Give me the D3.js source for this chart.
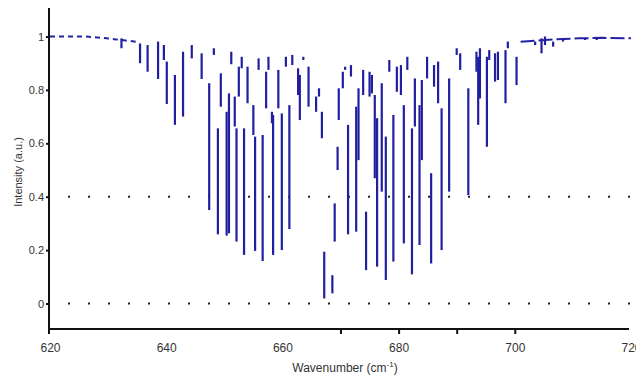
<!DOCTYPE html>
<html>
<head>
<meta charset="utf-8">
<script src="https://cdn.jsdelivr.net/npm/d3@7"></script>
<style>
  body { margin: 0; background: #fff; }
  text { font-family: "Liberation Sans", Arial, sans-serif; fill: #333; }
</style>
</head>
<body>
<script>
// wavenumber of each absorption line (cm^-1)
const linePos = [632.3, 635.5, 636.8, 638.6, 639.6, 640.1, 641.5, 642.9, 644.4, 646.1,
  647.4, 648.2, 648.9, 649.4, 650.4, 650.8, 651.2, 651.8, 652.1, 652.5,
  653.0, 653.4, 654.0, 655.0, 655.3, 655.9, 656.6, 657.2, 657.6, 658.2,
  658.4, 659.3, 659.9, 660.6, 661.2, 661.7, 662.7, 663.0, 663.6, 664.5,
  665.8, 666.3, 666.8, 667.2, 668.6, 669.0, 669.5, 669.7,
  670.4, 670.8, 671.3, 671.8, 672.7, 673.1, 673.9, 674.4, 675.0, 675.4,
  675.9, 676.3, 677.1, 677.8, 678.4, 679.1, 679.7, 680.4, 680.9, 681.5,
  682.3, 682.8, 683.6, 684.0, 684.9, 685.6, 686.1, 686.8, 687.4, 688.7,
  690.0, 690.6, 692.0, 693.4, 693.7, 694.0, 695.2, 695.6, 696.6, 697.1,
  698.4, 698.8, 700.3, 703.5, 704.6, 705.2, 706.6, 708.3, 712.1, 714.1];
// transmittance at the top of each line
const lineTop = [0.993, 0.974, 0.968, 0.981, 0.968, 0.906, 0.856, 0.943, 0.968, 0.937,
  0.825, 0.956, 0.656, 0.862, 0.718, 0.787, 0.943, 0.775, 0.656, 0.887,
  0.924, 0.656, 0.887, 0.743, 0.625, 0.918, 0.631, 0.868, 0.924, 0.718,
  0.706, 0.875, 0.712, 0.924, 0.743, 0.931, 0.881, 0.856, 0.924, 0.887,
  0.775, 0.806, 0.718, 0.194, 0.106, 0.375, 0.587, 0.806,
  0.868, 0.887, 0.669, 0.893, 0.737, 0.806, 0.875, 0.344, 0.868, 0.856,
  0.781, 0.694, 0.825, 0.625, 0.912, 0.706, 0.887, 0.893, 0.743, 0.924,
  0.656, 0.843, 0.743, 0.837, 0.924, 0.488, 0.893, 0.906, 0.731, 0.843,
  0.956, 0.937, 0.806, 0.943, 0.924, 0.956, 0.924, 0.949, 0.937, 0.943,
  0.949, 0.981, 0.924, 0.981, 0.993, 1.0, 0.981, 0.993, 0.995, 0.995];
// transmittance at the bottom of each line
const lineBottom = [0.956, 0.900, 0.868, 0.841, 0.912, 0.747, 0.669, 0.700, 0.918, 0.841,
  0.350, 0.931, 0.259, 0.737, 0.254, 0.263, 0.896, 0.663, 0.232, 0.775,
  0.881, 0.182, 0.750, 0.631, 0.197, 0.875, 0.159, 0.731, 0.875, 0.675,
  0.182, 0.731, 0.200, 0.887, 0.279, 0.893, 0.781, 0.687, 0.912, 0.737,
  0.718, 0.775, 0.619, 0.019, 0.038, 0.232, 0.500, 0.687,
  0.806, 0.875, 0.259, 0.850, 0.269, 0.537, 0.781, 0.125, 0.775, 0.787,
  0.469, 0.138, 0.419, 0.088, 0.868, 0.157, 0.793, 0.781, 0.225, 0.875,
  0.109, 0.663, 0.219, 0.537, 0.843, 0.150, 0.812, 0.750, 0.200, 0.419,
  0.931, 0.875, 0.406, 0.868, 0.669, 0.768, 0.587, 0.912, 0.831, 0.837,
  0.750, 0.956, 0.818, 0.968, 0.937, 0.968, 0.962, 0.981, 0.987, 0.987];

// flat baseline at both ends of the band
const baseLeftX = [620, 626, 629, 631, 633, 635];
const baseLeftY = [1.0, 1.0, 0.995, 0.99, 0.985, 0.98];
const baseRightX = [701, 704, 707, 711, 715, 720];
const baseRightY = [0.98, 0.985, 0.99, 0.993, 0.995, 0.993];

const xTickLabels = [620, 640, 660, 680, 700, 720];
const xTickMarks = [670, 680, 690, 700];
const yTicks = [0, 0.2, 0.4, 0.6, 0.8, 1];
const dottedLevels = [0, 0.4];

const svg = d3.select('body').append('svg')
  .attr('width', 636)
  .attr('height', 377);

const x = d3.scaleLinear().domain([620, 720]).range([50, 631]);
const y = d3.scaleLinear().domain([0, 1]).range([303.5, 36.5]);

// dotted reference lines
svg.selectAll('.dots')
  .data(dottedLevels)
  .enter()
  .append('line')
  .attr('x1', x(620) + 18)
  .attr('x2', x(720))
  .attr('y1', d => y(d))
  .attr('y2', d => y(d))
  .attr('stroke', '#222')
  .attr('stroke-width', 2)
  .attr('stroke-dasharray', '2,18');

// baseline pieces
const line = d3.line().x(d => x(d[0])).y(d => y(d[1]));
svg.append('path')
  .attr('d', line(baseLeftX.map((v, i) => [v, baseLeftY[i]])))
  .attr('fill', 'none')
  .attr('stroke', '#2323a8')
  .attr('stroke-width', 2)
  .attr('stroke-dasharray', '5,4');
svg.append('path')
  .attr('d', line(baseRightX.map((v, i) => [v, baseRightY[i]])))
  .attr('fill', 'none')
  .attr('stroke', '#2323a8')
  .attr('stroke-width', 2)
  .attr('stroke-dasharray', '14,4');

// absorption lines
svg.selectAll('.stick')
  .data(linePos)
  .enter()
  .append('line')
  .attr('x1', d => x(d))
  .attr('x2', d => x(d))
  .attr('y1', (d, i) => y(lineTop[i]))
  .attr('y2', (d, i) => y(lineBottom[i]))
  .attr('stroke', '#1f1fa0')
  .attr('stroke-width', 2.2);

// axes
const xAxis = svg.append('g')
  .attr('transform', 'translate(0,329)')
  .call(d3.axisBottom(x).tickValues(xTickLabels).tickSize(0).tickPadding(14).tickFormat(d3.format('d')));
xAxis.select('.domain').remove();
xAxis.selectAll('text').style('font-size', '12px').attr('fill', '#333');

svg.append('g')
  .attr('transform', 'translate(0,329)')
  .call(d3.axisBottom(x).tickValues(xTickMarks).tickSize(5).tickFormat(''))
  .call(g => g.select('.domain').remove())
  .selectAll('line').attr('stroke', '#111').attr('stroke-width', 2);

svg.append('line')
  .attr('x1', 49).attr('x2', 629)
  .attr('y1', 329).attr('y2', 329)
  .attr('stroke', '#111').attr('stroke-width', 2);

const yAxis = svg.append('g')
  .attr('transform', 'translate(49,0)')
  .call(d3.axisLeft(y).tickValues(yTicks).tickSize(3).tickPadding(2).tickFormat(d3.format('~g')));
yAxis.select('.domain').remove();
yAxis.selectAll('line').attr('stroke', '#111').attr('stroke-width', 2);
yAxis.selectAll('text').style('font-size', '11px').attr('fill', '#333');

svg.append('line')
  .attr('x1', 49).attr('x2', 49)
  .attr('y1', 8).attr('y2', 334)
  .attr('stroke', '#111').attr('stroke-width', 2);

// axis titles
const xt = svg.append('text')
  .attr('x', 345)
  .attr('y', 372)
  .attr('text-anchor', 'middle')
  .style('font-size', '12px')
  .text('Wavenumber (cm');
xt.append('tspan').attr('dy', -5).style('font-size', '8px').text('-1');
xt.append('tspan').attr('dy', 5).text(')');

svg.append('text')
  .attr('transform', 'translate(22,172) rotate(-90)')
  .attr('text-anchor', 'middle')
  .style('font-size', '11px')
  .text('Intensity (a.u.)');
</script>
</body>
</html>
